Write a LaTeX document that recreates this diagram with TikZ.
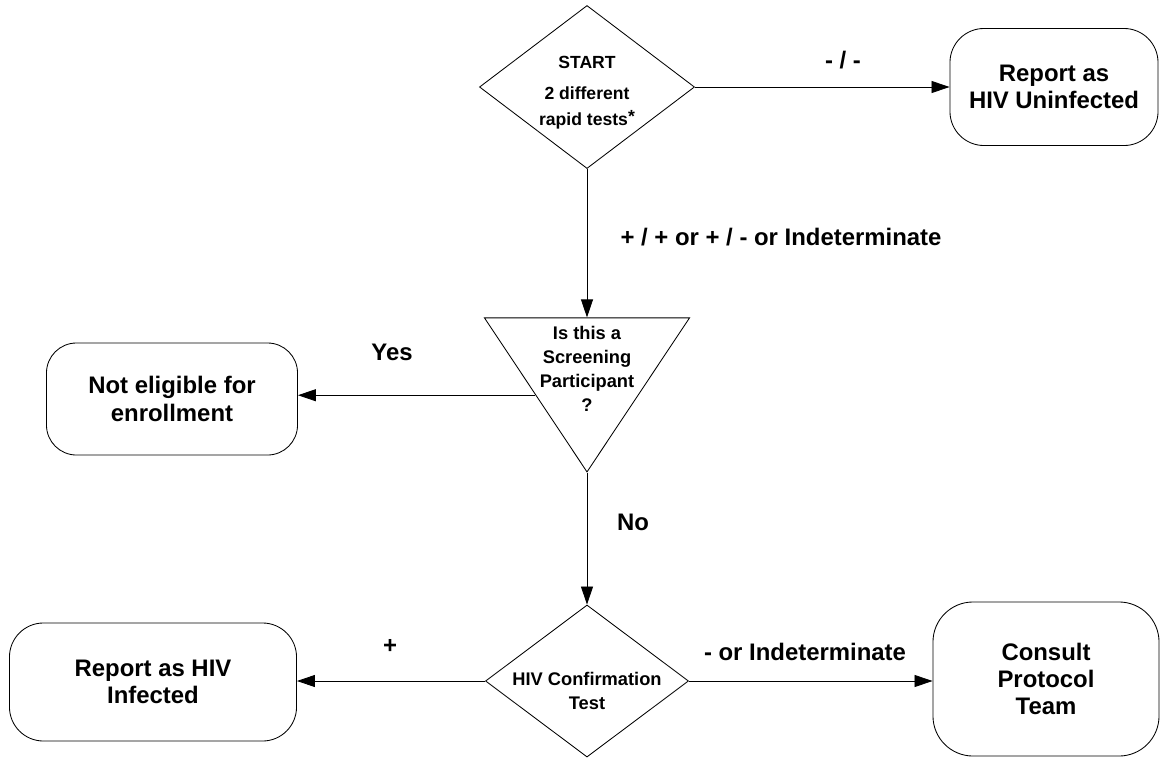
\documentclass[tikz,border=0pt]{standalone}
\usepackage{fontspec}
\setmainfont{Liberation Sans}
\usetikzlibrary{shapes.geometric,arrows.meta}
\tikzset{
	box/.style={draw, rounded corners=0.85cm, align=center, line width=0.6pt, font=\fontsize{17}{19.5}\selectfont\bfseries},
	decision/.style={draw, diamond, inner sep=0pt, line width=0.6pt},
	ask/.style={draw, isosceles triangle, isosceles triangle stretches, shape border rotate=270, inner sep=0pt, line width=0.6pt},
	inside/.style={align=center, inner sep=0pt, font=\fontsize{13}{17}\selectfont\bfseries},
	flow/.style={-{Triangle[length=4.5mm,width=3mm]}, line width=0.6pt},
	lbl/.style={font=\fontsize{17}{20}\selectfont\bfseries}
}

\begin{document}
\begin{tikzpicture}[x=0.025cm, y=-0.025cm]
		%%%%% START %%%%%
		\useasboundingbox (0, 0) rectangle (1160, 759);
		
		\node[decision, minimum width=5.375cm, minimum height=4.075cm,
			label={[inside, font=\fontsize{12.5}{18.5}\selectfont\bfseries, yshift=-0.15cm]center:START\\[3.5pt]2 different\\rapid tests\raisebox{0.4ex}{*}}] (start) at (587, 87) {};
		\node[box, minimum width=5.2cm, minimum height=2.925cm] (uninf) at (1054, 87) {Report as\\HIV Uninfected};
		
		\node[ask, minimum width=5.125cm, minimum height=3.85cm, anchor=apex,
			label={[inside, anchor=north, yshift=-0.225cm]north:Is this a\\Screening\\Participant\\?}] (screen) at (587, 473) {};
		\node[box, minimum width=6.275cm, minimum height=2.8cm, rounded corners=0.75cm] (noelig) at (172, 399) {Not eligible for\\enrollment};
		
		\node[decision, minimum width=5.075cm, minimum height=3.8cm,
			label={[inside, yshift=-0.26cm]center:HIV Confirmation\\Test}] (confirm) at (587, 681) {};
		\node[box, minimum width=7.175cm, minimum height=2.95cm] (infect) at (153, 682) {Report as HIV\\Infected};
		\node[box, minimum width=5.65cm, minimum height=3.85cm, rounded corners=1cm] (consult) at (1046, 679) {Consult\\Protocol\\Team};
		
		% connectors
		\draw[flow] (start.east) -- (start.east -| uninf.west);
		\draw[flow] (start.south) -- (screen.north);
		\draw[flow] (screen.right side) -- (screen.right side -| noelig.east);
		\draw[flow] (screen.apex) -- (confirm.north);
		\draw[flow] (confirm.west) -- (confirm.west -| infect.east);
		\draw[flow] (confirm.east) -- (confirm.east -| consult.west);
		
		% labels
		\node[lbl] (lblneg) at (843, 60) {- / -};
		\node[lbl] (lblpos) at (781, 237) {+ / + or + / - or Indeterminate};
		\node[lbl] (lblyes) at (392, 352) {Yes};
		\node[lbl] (lblno) at (633, 522) {No};
		\node[lbl] (lblplus) at (390, 646) {+};
		\node[lbl] (lblind) at (805, 652) {- or Indeterminate};
		
		%%%%% END %%%%%
\end{tikzpicture}
\end{document}
